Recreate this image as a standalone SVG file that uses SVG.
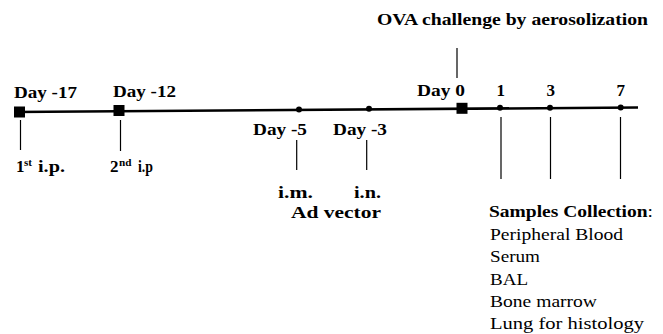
<svg xmlns="http://www.w3.org/2000/svg" width="663" height="334" viewBox="0 0 663 334">
<style>
text{font-family:'Liberation Serif','Times New Roman','DejaVu Serif',serif;font-size:17px;fill:#000}
.b{font-weight:bold}
.sup{font-size:11px}
.tick{stroke:#000;stroke-width:1.2;fill:none}
.axis{stroke:#000;stroke-width:2.6;fill:none}
</style>
<rect width="663" height="334" fill="#fff"/>
<g id="connectors">
<line class="axis" x1="14" y1="112" x2="638" y2="107.5"/>
<line class="tick" x1="20.5" y1="120" x2="20.5" y2="150"/>
<line class="tick" x1="120.5" y1="120" x2="120.5" y2="151"/>
<line class="tick" x1="296.7" y1="140" x2="296.7" y2="170"/>
<line class="tick" x1="366.7" y1="140" x2="366.7" y2="170"/>
<line class="tick" x1="457" y1="48" x2="457" y2="78"/>
<line class="tick" x1="501" y1="117" x2="501" y2="179"/>
<line class="tick" x1="550.5" y1="117" x2="550.5" y2="179"/>
<line class="tick" x1="620.5" y1="117" x2="620.5" y2="179"/>
</g>
<g id="title"><text class="b" x="377" y="25" textLength="271" lengthAdjust="spacingAndGlyphs">OVA challenge by aerosolization</text></g>
<g id="day-17">
<rect x="14" y="106.5" width="11" height="11" fill="#000"/>
<text class="b" x="14" y="98" textLength="63" lengthAdjust="spacingAndGlyphs">Day -17</text>
<text class="b" x="16" y="172">1</text><text class="b sup" x="24" y="166">st</text>
<text class="b" x="38" y="172" textLength="27" lengthAdjust="spacingAndGlyphs">i.p.</text>
</g>
<g id="day-12">
<rect x="113.5" y="105" width="11" height="11" fill="#000"/>
<text class="b" x="113" y="97" textLength="63" lengthAdjust="spacingAndGlyphs">Day -12</text>
<text class="b" x="110" y="172">2</text><text class="b sup" x="119" y="166" textLength="12.5" lengthAdjust="spacingAndGlyphs">nd</text>
<text class="b" x="138" y="172" textLength="15" lengthAdjust="spacingAndGlyphs">i.p</text>
</g>
<g id="day-5">
<circle cx="299" cy="109.5" r="3" fill="#000"/>
<text class="b" x="253" y="135" textLength="54" lengthAdjust="spacingAndGlyphs">Day -5</text>
<text class="b" x="278" y="198" textLength="35" lengthAdjust="spacingAndGlyphs">i.m.</text>
</g>
<g id="day-3">
<circle cx="369" cy="108.8" r="3" fill="#000"/>
<text class="b" x="333" y="135" textLength="54" lengthAdjust="spacingAndGlyphs">Day -3</text>
<text class="b" x="354" y="198" textLength="27" lengthAdjust="spacingAndGlyphs">i.n.</text>
</g>
<g id="ad-vector"><text class="b" x="291" y="218" textLength="90" lengthAdjust="spacingAndGlyphs">Ad vector</text></g>
<g id="day0">
<rect x="456.5" y="102.8" width="11" height="11" fill="#000"/>
<text class="b" x="417" y="96" textLength="48" lengthAdjust="spacingAndGlyphs">Day 0</text>
</g>
<g id="day1"><circle cx="500" cy="107.8" r="3" fill="#000"/><text class="b" x="496.5" y="96">1</text></g>
<g id="day3"><circle cx="550" cy="107.7" r="3" fill="#000"/><text class="b" x="546.5" y="96">3</text></g>
<g id="day7"><circle cx="620.7" cy="107.6" r="3" fill="#000"/><text class="b" x="616.5" y="96">7</text></g>
<g id="samples">
<text class="b" x="489" y="217" textLength="164" lengthAdjust="spacingAndGlyphs">Samples Collection<tspan font-weight="normal">:</tspan></text>
<text x="490" y="240" textLength="133" lengthAdjust="spacingAndGlyphs">Peripheral Blood</text>
<text x="490" y="262" textLength="50" lengthAdjust="spacingAndGlyphs">Serum</text>
<text x="490" y="284.5" textLength="38" lengthAdjust="spacingAndGlyphs">BAL</text>
<text x="490" y="307" textLength="107" lengthAdjust="spacingAndGlyphs">Bone marrow</text>
<text x="490" y="329" textLength="154" lengthAdjust="spacingAndGlyphs">Lung for histology</text>
</g>
</svg>
